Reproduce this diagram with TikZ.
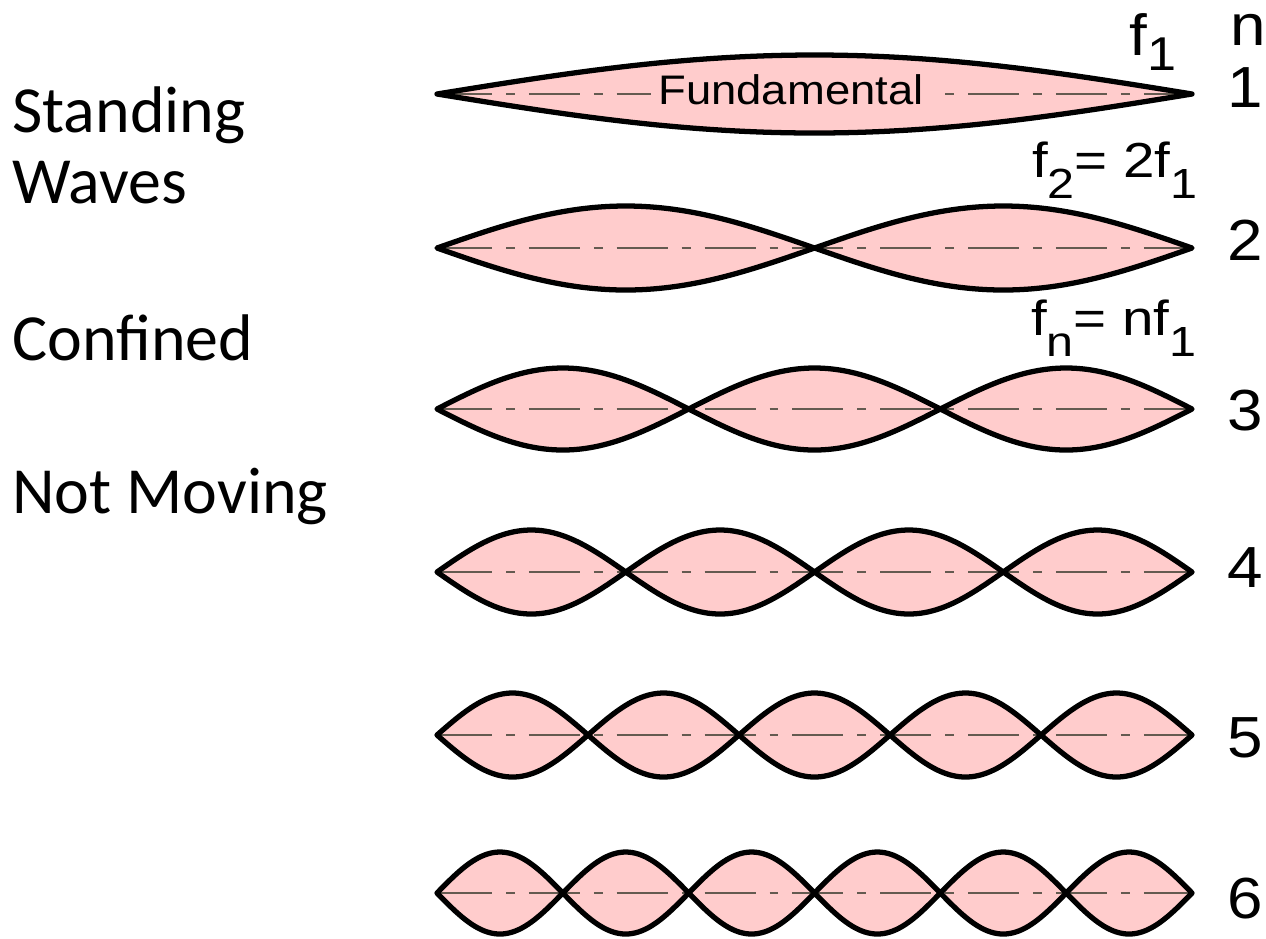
\documentclass[tikz,border=0pt]{standalone}
\usepackage{fontspec}
\setmainfont{Liberation Sans}
\newfontfamily\sidefont{Carlito}
\newfontfamily\labfont[FakeStretch=1.1]{Liberation Sans}
\newfontfamily\eqfont[FakeStretch=1.15]{Liberation Sans}
% lowered index for the frequency labels
\newcommand{\lowidx}[2]{\raisebox{-#1}{#2}}

\begin{document}
\begin{tikzpicture}[x=0.02cm,y=-0.02cm]
  % colors
  \definecolor{wavePink}{RGB}{255,204,204}
  \definecolor{axisGrey}{RGB}{100,90,80}
  \tikzset{
    wavefill/.style={fill=wavePink},
    waveline/.style={line width=3pt,line join=round,black},
    axisline/.style={line width=0.9pt,axisGrey,dash pattern=on 29pt off 8pt on 5pt off 8pt},
    sidetext/.style={anchor=base west,inner sep=0pt,font=\sidefont\fontsize{37.5}{44}\selectfont},
    rowlabel/.style={anchor=base,inner sep=0pt,font=\labfont\fontsize{33}{38}\selectfont},
    eqlabel/.style={anchor=base east,inner sep=0pt,font=\eqfont\fontsize{28}{32}\selectfont}
  }
  \useasboundingbox (0,0) rectangle (1266,938);

  % modes n = 1..6
  \foreach \n/\yc/\amp/\yb in {1/94/39/107,2/248/42/260,3/409/41/430,4/572/42/587,5/735/42/757,6/893/41/918} {
    \fill[wavefill] plot[variable=\t,domain=0:1,samples=241] ({437+755*\t},{\yc-\amp*sin(\n*180*\t)})
      -- plot[variable=\t,domain=1:0,samples=241] ({437+755*\t},{\yc+\amp*sin(\n*180*\t)}) -- cycle;
    \draw[axisline] (441,\yc) -- (1188,\yc);
    \draw[waveline] plot[variable=\t,domain=0:1,samples=241] ({437+755*\t},{\yc-\amp*sin(\n*180*\t)})
      -- plot[variable=\t,domain=1:0,samples=241] ({437+755*\t},{\yc+\amp*sin(\n*180*\t)}) -- cycle;
    \node[rowlabel] (n\n) at (1245,\yb) {\n};
  }
  \node[fill=wavePink,inner sep=4pt,font=\labfont\fontsize{23.5}{28}\selectfont] (fund) at (791,90) {Fundamental};

  % column heads and frequencies
  \node[rowlabel] (nhead) at (1248,45) {n};
  \node[anchor=base east,inner sep=0pt,font=\labfont\fontsize{33}{38}\selectfont] (f1) at (1177,55)
    {f\lowidx{9pt}{\fontsize{27}{30}\selectfont 1}};
  \node[eqlabel] (f2) at (1198,177) {f\lowidx{12pt}{\fontsize{24}{28}\selectfont 2}= 2f\lowidx{12pt}{\fontsize{24}{28}\selectfont 1}};
  \node[eqlabel] (fn) at (1197,335) {f\lowidx{12pt}{\fontsize{24}{28}\selectfont n}= nf\lowidx{12pt}{\fontsize{24}{28}\selectfont 1}};

  % side notes
  \node[sidetext] (standing) at (12,132) {Standing};
  \node[sidetext] (waves) at (12,203) {Waves};
  \node[sidetext] (confined) at (12,360) {Confined};
  \node[sidetext] (notmoving) at (12,513) {Not Moving};
\end{tikzpicture}
\end{document}
